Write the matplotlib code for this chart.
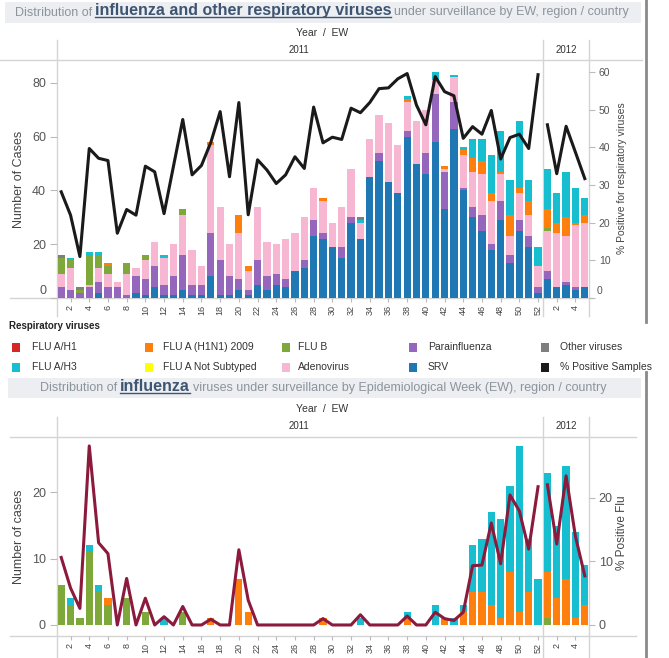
import numpy as np
import matplotlib
matplotlib.use("Agg")
import matplotlib.pyplot as plt
from matplotlib.patches import Rectangle

plt.rcParams['font.family'] = ['Liberation Sans', 'DejaVu Sans']

W, H = 669, 658

# EW 1-52 of 2011, then EW 1-5 of 2012
weeks_2011 = list(range(1, 53))
weeks_2012 = list(range(1, 6))
weeks = weeks_2011 + weeks_2012

# ---- respiratory viruses (top chart), number of cases ----
srv = [0, 0, 0, 0, 2, 0, 0, 0, 2, 1, 4, 1, 1, 3, 1, 1, 8, 1, 1, 3, 1, 5, 3, 5, 4, 10,
       11, 23, 22, 19, 15, 28, 22, 45, 51, 43, 39, 60, 50, 46, 58, 33, 63, 40, 30, 25,
       18, 29, 13, 25, 19, 2,
       7, 4, 5, 3, 4]
parainfluenza = [4, 3, 2, 4, 4, 4, 4, 1, 6, 6, 8, 4, 7, 13, 4, 4, 16, 13, 7, 4, 2, 9, 5,
                 4, 3, 0, 3, 6, 2, 0, 4, 2, 0, 0, 3, 0, 0, 2, 0, 8, 18, 14, 10, 1, 4, 6,
                 2, 7, 3, 4, 4, 2,
                 3, 0, 1, 1, 0]
adenovirus = [5, 8, 0, 1, 5, 5, 2, 8, 3, 7, 9, 10, 12, 15, 13, 7, 33, 20, 12, 17, 7, 20,
              13, 11, 15, 14, 16, 12, 12, 9, 15, 18, 6, 14, 14, 22, 18, 11, 16, 16, 5, 1,
              9, 12, 13, 15, 16, 10, 7, 10, 8, 8,
              15, 20, 17, 23, 24]
other_viruses = [1, 0, 1, 0, 0, 0, 0, 0, 0, 0, 0, 0, 0, 0, 0, 0, 0, 0, 0, 0, 0, 0, 0, 0,
                 0, 0, 0, 0, 0, 0, 0, 0, 1, 0, 0, 0, 0, 0, 0, 0, 0, 0, 0, 0, 0, 0, 0, 0,
                 0, 0, 0, 0,
                 0, 0, 0, 0, 0]

# ---- influenza (both charts), number of cases ----
flu_b = [6, 3, 1, 11, 5, 3, 0, 4, 0, 2, 0, 0, 0, 2, 0, 0, 0, 0, 0, 0, 0, 0, 0, 0, 0, 0,
         0, 0, 0, 0, 0, 0, 0, 0, 0, 0, 0, 0, 0, 0, 0, 0, 0, 0, 0, 0, 0, 0, 0, 0, 0, 0,
         1, 0, 0, 0, 0]
flu_not_subtyped = [0] * 57
flu_h1n1_2009 = [0, 0, 0, 0, 0, 1, 0, 0, 0, 0, 0, 0, 0, 0, 0, 0, 1, 0, 0, 7, 2, 0, 0, 0,
                 0, 0, 0, 0, 1, 0, 0, 0, 0, 0, 0, 0, 0, 1, 0, 0, 0, 1, 0, 2, 5, 5, 3, 1,
                 8, 2, 5, 0,
                 7, 4, 7, 1, 3]
flu_h3 = [0, 1, 0, 1, 1, 0, 0, 0, 0, 0, 0, 1, 0, 0, 0, 0, 0, 0, 0, 0, 0, 0, 0, 0, 0, 0,
          0, 0, 0, 0, 0, 0, 1, 0, 0, 0, 0, 1, 0, 0, 3, 0, 1, 1, 7, 8, 14, 15, 13, 25, 8, 7,
          15, 11, 17, 13, 6]
flu_h1 = [0] * 57

# ---- % positive lines ----
pct_resp_2011 = [28.2, 22.0, 11.0, 39.7, 37.1, 36.5, 17.2, 23.5, 22.0, 35.0, 33.5, 22.4,
                 34.9, 47.4, 32.7, 35.2, 41.3, 49.5, 32.2, 51.9, 22.1, 36.7, 34.0, 30.4,
                 32.7, 37.5, 34.4, 50.7, 41.2, 42.7, 42.1, 50.4, 49.2, 51.9, 55.6, 55.8,
                 58.2, 59.6, 51.2, 46.0, 58.8, 54.8, 53.7, 42.4, 45.5, 43.5, 49.8, 36.9,
                 42.6, 43.5, 39.7, 59.3]
pct_resp_2012 = [46.0, 33.0, 45.6, 38.7, 31.7]
pct_flu_2011 = [10.6, 5.8, 2.6, 28.1, 12.9, 11.2, 0, 7.3, 0, 4.2, 0, 1.3, 0, 2.9, 0, 0,
                0.9, 0, 0, 11.8, 3.9, 0, 0, 0, 0, 0, 0, 0, 1.0, 0, 0, 0, 1.6, 0, 0, 0,
                0, 1.4, 0, 0, 2.0, 1.0, 0.7, 2.0, 9.3, 9.4, 16.0, 9.6, 20.4, 17.9, 11.9,
                21.7]
pct_flu_2012 = [22.0, 12.7, 23.4, 13.9, 7.7]

colors = {
    'FLU A/H1': '#d62728',
    'FLU A/H3': '#17becf',
    'FLU A (H1N1) 2009': '#ff7f0e',
    'FLU A Not Subtyped': '#ffff00',
    'FLU B': '#7fa83a',
    'Adenovirus': '#f7b6d2',
    'Parainfluenza': '#9467bd',
    'SRV': '#1f77b4',
    'Other viruses': '#7f7f7f',
    '% Positive Samples': '#1a1a1a',
}

fig = plt.figure(figsize=(W / 100, H / 100), dpi=100)

# background axes in pixel coordinates (origin top-left)
bg = fig.add_axes([0, 0, 1, 1], zorder=-1)
bg.set_xlim(0, W)
bg.set_ylim(H, 0)
bg.axis('off')

grid_c = '#d4d4d4'
txt_c = '#555555'

# title bands
bg.add_patch(Rectangle((5, 2), 636, 21, color='#eceef1', lw=0))
bg.add_patch(Rectangle((8, 378), 633, 20, color='#eceef1', lw=0))


def title_line(y, parts):
    texts = []
    prev = None
    for s, kw in parts:
        if prev is None:
            prev = bg.text(0, y, s, ha='left', va='center', **kw)
        else:
            prev = bg.annotate(s, xy=(1, 0), xycoords=prev, xytext=(3, 0),
                               textcoords='offset pixels', ha='left', va='bottom', **kw)
        texts.append(prev)
    return texts


grey_kw = dict(fontsize=9, color='#8c949c')
bold_kw = dict(fontsize=11.5, color='#3e5572', fontweight='bold')
title1 = title_line(12.5, [('Distribution of', grey_kw),
                           ('influenza and other respiratory viruses', bold_kw),
                           ('under surveillance by EW, region / country', grey_kw)])
title2 = title_line(388, [('Distribution of', grey_kw),
                          ('influenza', bold_kw),
                          ('viruses under surveillance by Epidemiological Week (EW), region / country', grey_kw)])

# frame lines
for y0, y1 in [(40, 316), (417, 658)]:
    for x in (57, 543, 589):
        bg.plot([x, x], [y0, y1], color=grid_c, lw=1)
bg.plot([0, 642], [60, 60], color=grid_c, lw=1)
bg.plot([10, 592], [298, 298], color=grid_c, lw=1)
bg.plot([10, 636], [437, 437], color=grid_c, lw=1)
bg.plot([10, 636], [636, 636], color=grid_c, lw=1)
bg.plot([646, 646], [0, 322], color='#8a8a8a', lw=2)
bg.plot([646, 646], [372, 658], color='#8a8a8a', lw=2)

# headers
for yy, yh in [(33, 50), (409, 426)]:
    bg.text(322, yy, 'Year  /  EW', ha='center', va='center', fontsize=7.5, color='#333333')
    bg.text(299, yh, '2011', ha='center', va='center', fontsize=7, color='#333333')
    bg.text(566, yh, '2012', ha='center', va='center', fontsize=7, color='#333333')

x = np.arange(len(weeks))
tick_pos = [i for i, w in enumerate(weeks) if w % 2 == 0]
tick_lab = [str(weeks[i]) for i in tick_pos]
n11 = len(weeks_2011)


def style_x(ax):
    ax.set_xlim(-0.45, len(weeks) - 0.55)
    ax.set_xticks(tick_pos)
    ax.set_xticklabels(tick_lab, rotation=90, fontsize=6.5, color='#444444')
    ax.tick_params(axis='x', length=3, color='#bbbbbb', pad=2)
    for s in ax.spines.values():
        s.set_visible(False)
    ax.patch.set_visible(False)


def stack(ax, series):
    bottom = np.zeros(len(weeks))
    for name, vals in series:
        v = np.array(vals, dtype=float)
        ax.bar(x, v, bottom=bottom, width=0.78, color=colors[name], lw=0)
        bottom += v


# ---------------- top chart ----------------
ax1 = fig.add_axes([57 / W, 1 - 298 / H, 532 / W, 238 / H])
style_x(ax1)
stack(ax1, [('SRV', srv), ('Parainfluenza', parainfluenza), ('Adenovirus', adenovirus),
            ('FLU B', flu_b), ('FLU A Not Subtyped', flu_not_subtyped),
            ('FLU A (H1N1) 2009', flu_h1n1_2009), ('FLU A/H3', flu_h3),
            ('FLU A/H1', flu_h1), ('Other viruses', other_viruses)])
ax1.set_ylim(0, 88.5)
ax1.set_yticks([0, 20, 40, 60, 80])
ax1.set_yticklabels(['', '20', '40', '60', '80'], fontsize=9, color=txt_c)
ax1.tick_params(axis='y', length=5, color='#bbbbbb', pad=3)

ax1r = ax1.twinx()
style_x(ax1r)
ax1r.plot(x[:n11], pct_resp_2011, color=colors['% Positive Samples'], lw=2.2)
ax1r.plot(x[n11:], pct_resp_2012, color=colors['% Positive Samples'], lw=2.2)
ax1r.set_ylim(0, 63.2)
ax1r.set_yticks([0, 10, 20, 30, 40, 50, 60])
ax1r.set_yticklabels(['', '10', '20', '30', '40', '50', '60'], fontsize=7.5, color=txt_c)
ax1r.tick_params(axis='y', length=4, color='#bbbbbb', pad=3)
bg.text(47, 291, '0', ha='right', va='center', fontsize=9, color=txt_c)
bg.text(597, 291, '0', ha='left', va='center', fontsize=7.5, color=txt_c)

bg.text(19, 179, 'Number of Cases', rotation=90, ha='center', va='center', fontsize=9, color='#444444')
bg.text(622, 178, '% Positive for respiratory viruses', rotation=90, ha='center', va='center',
        fontsize=7.5, color='#444444')

# ---------------- legend ----------------
bg.text(9, 326, 'Respiratory viruses', ha='left', va='center', fontsize=7, fontweight='bold', color='#222222')
legend_rows = [['FLU A/H1', 'FLU A (H1N1) 2009', 'FLU B', 'Parainfluenza', 'Other viruses'],
               ['FLU A/H3', 'FLU A Not Subtyped', 'Adenovirus', 'SRV', '% Positive Samples']]
col_sq = [12, 145, 282, 409, 541]
col_tx = [32, 163, 298, 428, 560]
for r, row in enumerate(legend_rows):
    yc = 347 + r * 20.5
    for c, name in enumerate(row):
        bg.add_patch(Rectangle((col_sq[c], yc - 4.5), 8, 9, color=colors[name], lw=0))
        bg.text(col_tx[c], yc, name, ha='left', va='center', fontsize=7.5, color='#333333')

# ---------------- bottom chart ----------------
ax2 = fig.add_axes([57 / W, 1 - 636 / H, 532 / W, 199 / H])
style_x(ax2)
stack(ax2, [('FLU B', flu_b), ('FLU A Not Subtyped', flu_not_subtyped),
            ('FLU A (H1N1) 2009', flu_h1n1_2009), ('FLU A/H3', flu_h3), ('FLU A/H1', flu_h1)])
ax2.set_ylim(-1.66, 28.36)
ax2.set_yticks([0, 10, 20])
ax2.tick_params(axis='y', length=5, color='#bbbbbb', pad=3, labelsize=9, labelcolor=txt_c)

ax2r = ax2.twinx()
style_x(ax2r)
ax2r.plot(x[:n11], pct_flu_2011, color='#8b1a3c', lw=2.2)
ax2r.plot(x[n11:], pct_flu_2012, color='#8b1a3c', lw=2.2)
ax2r.set_ylim(-1.73, 29.5)
ax2r.set_yticks([0, 10, 20])
ax2r.tick_params(axis='y', length=4, color='#bbbbbb', pad=3, labelsize=9, labelcolor=txt_c)

bg.text(19, 537, 'Number of cases', rotation=90, ha='center', va='center', fontsize=9, color='#444444')
bg.text(622, 533, '% Positive Flu', rotation=90, ha='center', va='center', fontsize=8.5, color='#444444')

# center the title lines and underline the bold part
fig.canvas.draw()
for parts, cx in [(title1, 322), (title2, 323)]:
    x0 = parts[0].get_window_extent().x0
    x1 = parts[-1].get_window_extent().x1
    parts[0].set_x(cx - (x1 - x0) / 2)
fig.canvas.draw()
for parts in (title1, title2):
    bb = parts[1].get_window_extent()
    yy = H - bb.y0 - 1.5
    bg.plot([bb.x0, bb.x1], [yy, yy], color='#3e5572', lw=1)

fig.savefig('out.png', dpi=100)
